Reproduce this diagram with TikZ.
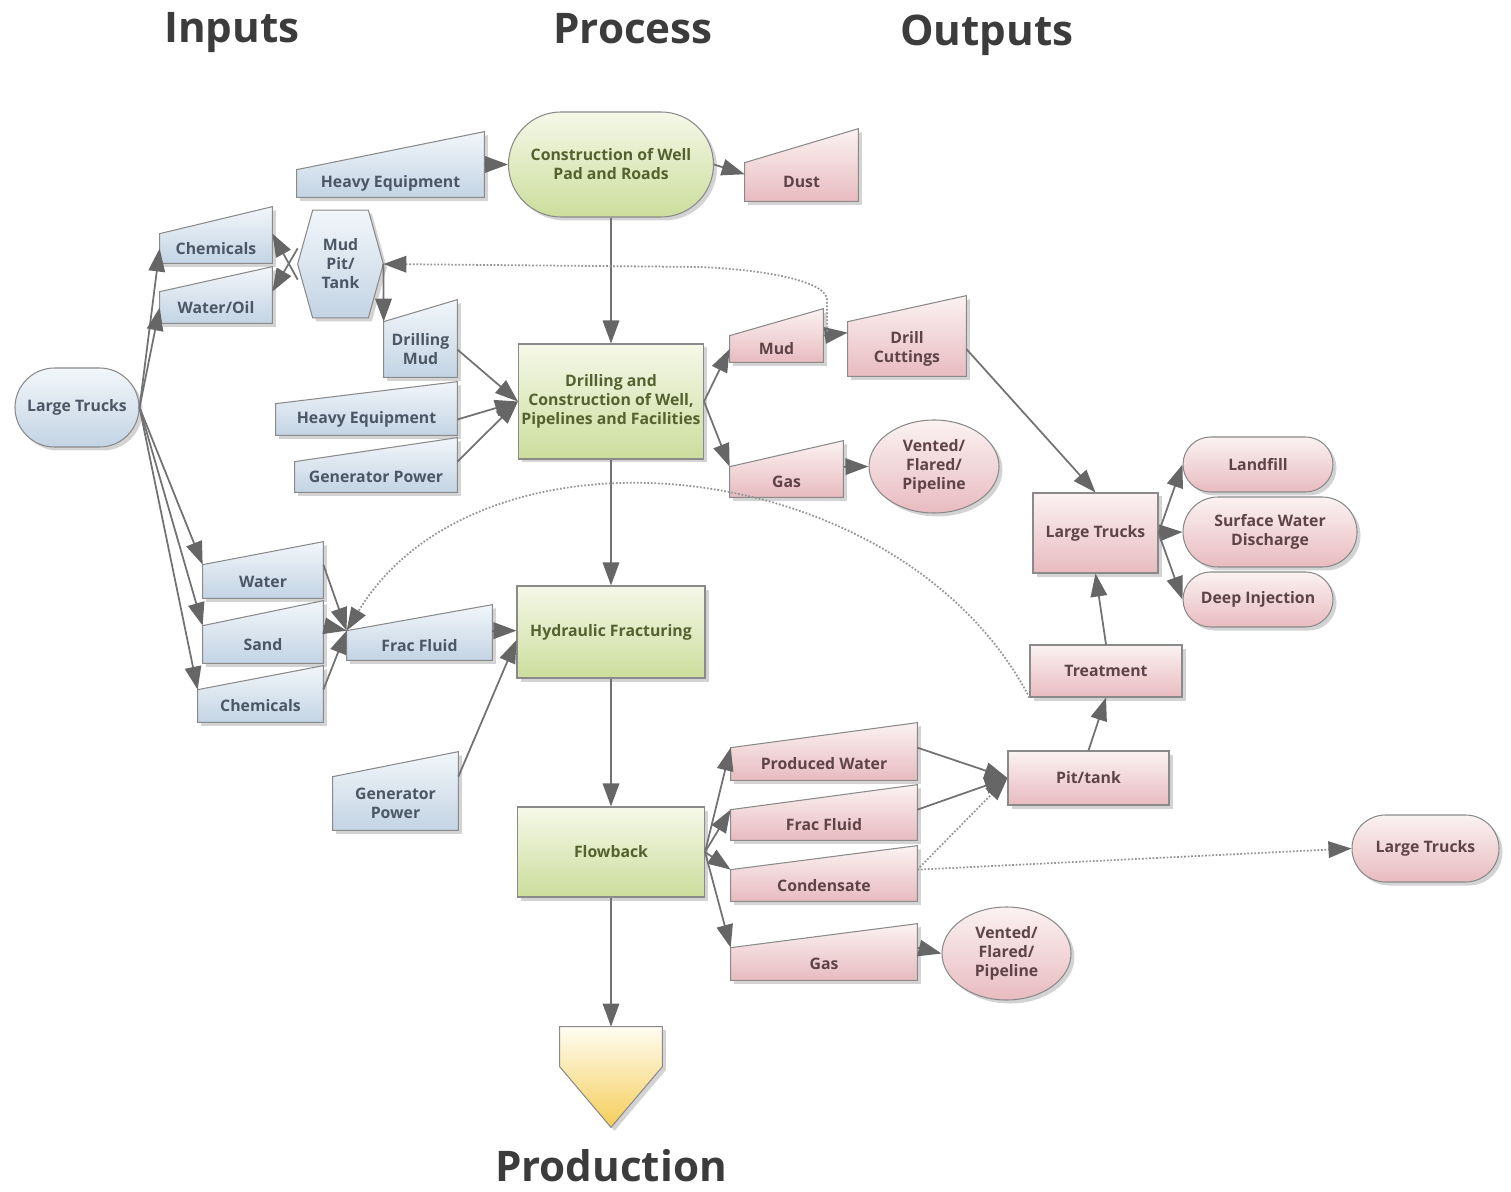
\documentclass[tikz,border=0pt]{standalone}
\usepackage{fontspec}
\setmainfont{Open Sans}
\usepackage{xcolor}
\usepackage{tikz}
\usetikzlibrary{positioning, shapes.geometric, shapes.misc, arrows.meta, calc, backgrounds, shadows}

\definecolor{edge}{HTML}{8A8A8A}
\definecolor{link}{HTML}{727272}
\definecolor{tip}{HTML}{666666}
\definecolor{intop}{HTML}{F2F6FA}
\definecolor{inbot}{HTML}{C3D4E4}
\definecolor{intext}{HTML}{4C5765}
\definecolor{prtop}{HTML}{F5F8E8}
\definecolor{prbot}{HTML}{CCDD9C}
\definecolor{prtext}{HTML}{55612F}
\definecolor{outtop}{HTML}{FBF2F2}
\definecolor{outbot}{HTML}{E8BBC0}
\definecolor{outtext}{HTML}{5E4446}
\definecolor{prodtop}{HTML}{FFFDF2}
\definecolor{prodbot}{HTML}{F5CD58}
\definecolor{head}{HTML}{3C3C3C}

\newcommand{\boxfont}{\fontsize{9}{10.8}\selectfont\bfseries}

\tikzset{
  sz/.style 2 args={minimum width=#1*0.02cm, minimum height=#2*0.02cm},
  soft/.style={drop shadow={shadow xshift=0.07cm, shadow yshift=-0.07cm, opacity=0.35}},
  txt/.style={font=\boxfont, inner sep=0pt, align=center},
  inp/.style={txt, text=intext},
  outp/.style={txt, text=outtext},
  bluefill/.style={draw=edge, line width=0.6pt, top color=intop, bottom color=inbot, soft},
  greenfill/.style={draw=edge, line width=0.6pt, top color=prtop, bottom color=prbot, soft},
  pinkfill/.style={draw=edge, line width=0.6pt, top color=outtop, bottom color=outbot, soft},
  yellowfill/.style={draw=edge, line width=0.6pt, top color=prodtop, bottom color=prodbot, soft},
  inbox/.style={txt, text=intext, bluefill},
  procbox/.style={txt, text=prtext, greenfill},
  outbox/.style={txt, text=outtext, pinkfill},
  arr/.style={draw=link, line width=1pt, -{Triangle[length=0.46cm, width=0.33cm, color=tip]}},
  dots/.style={arr, densely dotted, draw=link!75},
  title/.style={font=\fontsize{24}{28}\selectfont\bfseries, text=head}
}

\begin{document}
\begin{tikzpicture}[x=0.02cm, y=-0.02cm]
  \useasboundingbox (0,0) rectangle (1511,1192);

  % Column headings
  \node[title] (inputs) at (232,33) {Inputs};
  \node[title] (process) at (633,29) {Process};
  \node[title] (outputs) at (987,35) {Outputs};
  \node[title] (prodLabel) at (611,1166) {Production};

  % Inputs
  \node[inp, sz={187}{27}] (heavyA) at (390.5,183.5) {Heavy Equipment};
  \node[inp, sz={112}{29}] (chemA) at (216,248.5) {Chemicals};
  \node[inp, sz={112}{31}] (waterOil) at (216,307.5) {Water/Oil};
  \node[inp, sz={85}{107}] (mudpit) at (340.5,264) {Mud\\Pit/\\Tank};
  \node[inp, sz={73}{55}] (drillMud) at (420.5,349.5) {Drilling\\Mud};
  \node[inp, sz={181}{31}] (heavyB) at (366.5,419.5) {Heavy Equipment};
  \node[inp, sz={162}{30}] (genA) at (376,477) {Generator Power};
  \node[inbox, rounded rectangle, sz={124}{79}] (trucksA) at (77,407.5) {Large Trucks};
  \node[inp, sz={120}{33}] (water) at (263,581.5) {Water};
  \node[inp, sz={120}{37}] (sand) at (263,644.5) {Sand};
  \node[inp, sz={125}{32}] (chemB) at (260.5,706) {Chemicals};
  \node[inp, sz={145}{29}] (fracA) at (419.5,645.5) {Frac Fluid};
  \node[inp, sz={125}{53}] (genB) at (395.5,803.5) {Generator\\Power};

  % Process
  \node[procbox, rounded rectangle, sz={205}{105}] (constr) at (611,164.5) {Construction of Well\\Pad and Roads};
  \node[procbox, sz={185}{115}] (drill) at (611,401.5) {Drilling and\\Construction of Well,\\Pipelines and Facilities};
  \node[procbox, sz={188}{92}] (hydraulic) at (611,632) {Hydraulic Fracturing};
  \node[procbox, sz={187}{90}] (flowback) at (611,852) {Flowback};
  \node[txt, sz={102}{100}] (production) at (611,1077) {};

  % Outputs
  \node[outp, sz={113}{38}] (dust) at (801.5,182) {Dust};
  \node[outp, sz={93}{26}] (mud) at (776.5,349) {Mud};
  \node[outp, sz={118}{54}] (cuttings) at (907,349) {Drill\\Cuttings};
  \node[outp, sz={113}{30}] (gasA) at (786.5,482) {Gas};
  \node[outbox, ellipse, sz={130}{93}] (ventA) at (934,466.5) {Vented/\\Flared/\\Pipeline};
  \node[outbox, sz={125}{80}] (trucksB) at (1095.5,533) {Large Trucks};
  \node[outbox, rounded rectangle, sz={150}{55}] (landfill) at (1258,464.5) {Landfill};
  \node[outbox, rounded rectangle, sz={174}{70}] (surface) at (1270,532) {Surface Water\\Discharge};
  \node[outbox, rounded rectangle, sz={150}{55}] (deep) at (1258,599.5) {Deep Injection};
  \node[outbox, sz={152}{52}] (treatment) at (1106,671) {Treatment};
  \node[outbox, sz={161}{54}] (pit) at (1088.5,778) {Pit/tank};
  \node[outp, sz={186}{32}] (prodWater) at (824,764) {Produced Water};
  \node[outp, sz={186}{30}] (fracB) at (824,825) {Frac Fluid};
  \node[outp, sz={186}{31}] (condensate) at (824,885.5) {Condensate};
  \node[outp, sz={186}{32}] (gasB) at (824,964) {Gas};
  \node[outbox, ellipse, sz={129}{93}] (ventB) at (1006.5,953.5) {Vented/\\Flared/\\Pipeline};
  \node[outbox, rounded rectangle, sz={147}{67}] (trucksC) at (1425.5,848.5) {Large Trucks};

  % Slanted-top boxes, hexagon and end shape behind the text
  \begin{scope}[on background layer]
    \foreach \nm/\rise in {heavyA/38, chemA/27, waterOil/25, drillMud/22, heavyB/22, genA/24, water/23, sand/25, chemB/24, fracA/26, genB/25}
      \draw[bluefill] (\nm.south west) -- (\nm.south east) -- ($(\nm.north east)+(0,-\rise)$) -- (\nm.north west) -- cycle;
    \foreach \nm/\rise in {dust/34, mud/27, cuttings/26, gasA/26, prodWater/25, fracB/25, condensate/24, gasB/24}
      \draw[pinkfill] (\nm.south west) -- (\nm.south east) -- ($(\nm.north east)+(0,-\rise)$) -- (\nm.north west) -- cycle;
    \draw[bluefill] (mudpit.west) -- ($(mudpit.north west)+(15,0)$) -- ($(mudpit.north east)+(-15,0)$)
      -- (mudpit.east) -- ($(mudpit.south east)+(-15,0)$) -- ($(mudpit.south west)+(15,0)$) -- cycle;
    \draw[yellowfill] (production.north west) -- (production.north east) -- ($(production.north east)+(0,40)$)
      -- (production.south) -- ($(production.north west)+(0,40)$) -- cycle;
  \end{scope}

  % Main process chain
  \draw[arr] (heavyA.north east |- constr.west) -- (constr.west);
  \draw[arr] (constr.east) -- ($(dust.north west)!0.3!(dust.south west)$);
  \draw[arr] (constr.south) -- (drill.north);
  \draw[arr] (drill.south) -- (hydraulic.north);
  \draw[arr] (hydraulic.south) -- (flowback.north);
  \draw[arr] (flowback.south) -- (production.north);

  % Deliveries by truck
  \foreach \dst in {chemA.west, waterOil.west, water.north west, sand.north west, chemB.north west}
    \draw[arr] (trucksA.east) -- (\dst);

  % Mud system
  \draw[arr] (mudpit.200) -- (chemA.north east);
  \draw[arr] (mudpit.160) -- (waterOil.north east);
  \draw[arr] (mudpit.east) -- (drillMud.north west);
  \foreach \src in {drillMud.east, heavyB.east, genA.north east}
    \draw[arr] (\src) -- (drill.west);

  % Drilling outputs
  \draw[arr] (drill.east) -- (mud.west);
  \draw[arr] (drill.east) -- (gasA.north west);
  \draw[arr] (mud.north east) -- ($(cuttings.north west)!0.2!(cuttings.south west)$);
  \draw[arr] (gasA.north east) -- (ventA.west);
  \draw[arr] (cuttings.east) -- (trucksB.north);
  \foreach \dst in {landfill, surface, deep}
    \draw[arr] (trucksB.east) -- (\dst.west);
  \draw[arr] (treatment.north) -- (trucksB.south);
  \draw[arr] (pit.north) -- (treatment.south);

  % Mud recycled back to the pit
  \coordinate (cutTop) at (827,300);
  \coordinate (mudBend) at (700,267);
  \draw[dots] ($(mud.north east)+(4,-4)$) -- (cutTop) .. controls +(0,-18) and (770,270) .. (mudBend) -- (mudpit.east);

  % Frac fluid
  \foreach \src in {water.north east, sand.north east, chemB.north east}
    \draw[arr] (\src) -- (fracA.north west);
  \draw[arr] (fracA.north east) -- (fracA.north east -| hydraulic.west);
  \draw[arr] (genB.north east) -- ($(hydraulic.west)+(0,8)$);
  \draw[dots] (treatment.south west) .. controls (900,450) and (480,410) .. (fracA.north west);

  % Flowback outputs
  \foreach \dst in {prodWater, fracB, condensate, gasB}
    \draw[arr] (flowback.east) -- (\dst.north west);
  \draw[arr] (prodWater.north east) -- (pit.west);
  \draw[arr] (fracB.north east) -- (pit.west);
  \draw[dots] (condensate.north east) -- (pit.west);
  \draw[dots] (condensate.north east) -- (trucksC.west);
  \draw[arr] (gasB.north east) -- (ventB.west);
\end{tikzpicture}
\end{document}
